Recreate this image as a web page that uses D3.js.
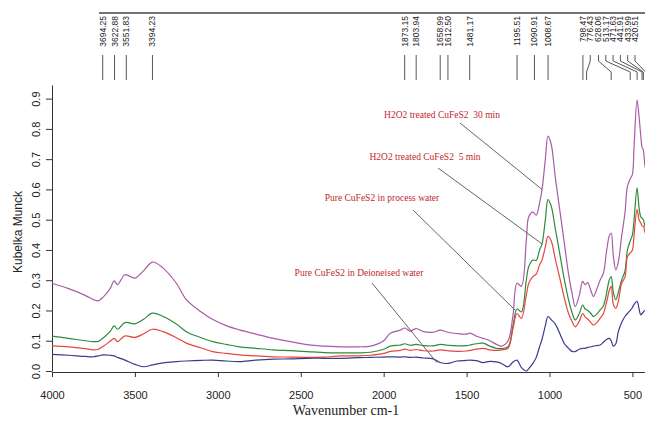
<!DOCTYPE html>
<html>
<head>
<meta charset="utf-8">
<script src="https://cdn.jsdelivr.net/npm/d3@7"></script>
<style>
  body { margin: 0; background: #fff; }
  svg { display: block; }
  .annot { white-space: pre; }
</style>
</head>
<body>
<svg class="spectra"></svg>
<script>
// wavenumbers (cm-1) shared by all four spectra
const wavenumbers = [4000, 3900, 3800, 3750, 3720, 3690, 3650, 3625, 3605, 3560, 3500, 3450, 3394, 3330, 3250, 3190,
	3100, 3030, 2950, 2870, 2770, 2665, 2560, 2460, 2360, 2260, 2150, 2080, 2000, 1960, 1900, 1873, 1840, 1804, 1760,
	1700, 1660, 1612, 1560, 1500, 1480, 1440, 1400, 1360, 1320, 1290, 1250, 1220, 1196, 1170, 1140, 1125, 1100, 1080,
	1060, 1045, 1025, 1009, 990, 965, 935, 910, 885, 865, 845, 820, 800, 785, 770, 750, 735, 715, 695, 675, 655, 640,
	628, 615, 600, 585, 565, 545, 530, 513, 500, 490, 472, 460, 450, 442, 434, 425, 410, 400];

const treated30 = [0.290, 0.272, 0.250, 0.236, 0.232, 0.245, 0.272, 0.298, 0.285, 0.318, 0.307, 0.330, 0.360, 0.340, 0.290, 0.236,
	0.195, 0.170, 0.150, 0.136, 0.122, 0.108, 0.097, 0.087, 0.082, 0.080, 0.080, 0.082, 0.100, 0.125, 0.135, 0.142, 0.132, 0.140, 0.130,
	0.128, 0.135, 0.128, 0.124, 0.122, 0.125, 0.115, 0.108, 0.100, 0.088, 0.082, 0.100, 0.185, 0.290, 0.280, 0.430, 0.510, 0.525, 0.515,
	0.555, 0.600, 0.700, 0.776, 0.750, 0.640, 0.520, 0.420, 0.320, 0.260, 0.213, 0.250, 0.296, 0.285, 0.292, 0.265, 0.246, 0.270, 0.300, 0.323,
	0.400, 0.445, 0.456, 0.380, 0.334, 0.360, 0.445, 0.522, 0.610, 0.635, 0.650, 0.742, 0.895, 0.840, 0.780, 0.740, 0.730, 0.680, 0.640, 0.610];

const treated5 = [0.115, 0.108, 0.100, 0.097, 0.098, 0.110, 0.130, 0.149, 0.138, 0.160, 0.156, 0.170, 0.191, 0.180, 0.155, 0.130,
	0.110, 0.097, 0.088, 0.080, 0.075, 0.070, 0.067, 0.064, 0.061, 0.060, 0.060, 0.062, 0.072, 0.082, 0.086, 0.090, 0.085, 0.088, 0.084,
	0.083, 0.088, 0.085, 0.083, 0.084, 0.086, 0.090, 0.092, 0.082, 0.075, 0.074, 0.080, 0.150, 0.205, 0.195, 0.300, 0.345, 0.367, 0.365,
	0.400, 0.420, 0.500, 0.566, 0.545, 0.470, 0.378, 0.300, 0.235, 0.195, 0.169, 0.190, 0.218, 0.205, 0.200, 0.190, 0.180, 0.188, 0.202, 0.215,
	0.260, 0.300, 0.312, 0.260, 0.235, 0.260, 0.300, 0.330, 0.400, 0.430, 0.450, 0.500, 0.605, 0.540, 0.510, 0.505, 0.500, 0.480, 0.460, 0.450];

const processWater = [0.083, 0.080, 0.074, 0.070, 0.072, 0.082, 0.098, 0.108, 0.097, 0.116, 0.111, 0.122, 0.138, 0.130, 0.110, 0.092,
	0.076, 0.064, 0.058, 0.053, 0.050, 0.047, 0.046, 0.045, 0.046, 0.050, 0.050, 0.052, 0.058, 0.065, 0.068, 0.072, 0.068, 0.071, 0.067,
	0.066, 0.070, 0.067, 0.065, 0.066, 0.068, 0.072, 0.075, 0.070, 0.068, 0.070, 0.075, 0.140, 0.190, 0.174, 0.250, 0.290, 0.312, 0.320,
	0.350, 0.367, 0.410, 0.445, 0.430, 0.370, 0.300, 0.240, 0.190, 0.165, 0.146, 0.165, 0.190, 0.178, 0.172, 0.160, 0.152, 0.160, 0.174, 0.190,
	0.230, 0.265, 0.280, 0.220, 0.207, 0.230, 0.290, 0.310, 0.378, 0.390, 0.400, 0.450, 0.533, 0.500, 0.490, 0.480, 0.478, 0.460, 0.440, 0.430];

const deionised = [0.055, 0.052, 0.048, 0.047, 0.050, 0.053, 0.052, 0.050, 0.045, 0.036, 0.022, 0.014, 0.020, 0.027, 0.031, 0.033,
	0.035, 0.036, 0.033, 0.031, 0.036, 0.039, 0.040, 0.042, 0.042, 0.042, 0.044, 0.045, 0.046, 0.047, 0.046, 0.047, 0.045, 0.046, 0.043,
	0.040, 0.028, 0.025, 0.033, 0.035, 0.036, 0.034, 0.028, 0.032, 0.030, 0.025, 0.014, 0.030, 0.036, 0.012, 0.000, 0.008, 0.025, 0.045,
	0.080, 0.105, 0.150, 0.180, 0.170, 0.155, 0.120, 0.090, 0.075, 0.065, 0.064, 0.072, 0.075, 0.075, 0.078, 0.080, 0.082, 0.084, 0.086, 0.095,
	0.105, 0.108, 0.100, 0.082, 0.090, 0.130, 0.160, 0.180, 0.190, 0.200, 0.210, 0.220, 0.230, 0.205, 0.185, 0.190, 0.195, 0.200, 0.200, 0.200];

const seriesColors = ['#a95aa9', '#2f8a3c', '#e6463d', '#3b3b8e'];

const xTicks = [4000, 3500, 3000, 2500, 2000, 1500, 1000, 500];
const yTicks = [0, 0.1, 0.2, 0.3, 0.4, 0.5, 0.6, 0.7, 0.8, 0.9];

// marked peaks along the top
const peakLabels = ['3694.25', '3622.88', '3551.83', '3394.23', '1873.15', '1803.94', '1658.99', '1612.50', '1481.17',
	'1195.51', '1090.91', '1008.67', '798.47', '776.43', '628.06', '513.17', '471.63', '441.91', '433.99', '420.51'];

// callouts: text, where the leader ends (wavenumber, value)
const annotTexts = ['H2O2 treated CuFeS2  30 min', 'H2O2 treated CuFeS2  5 min', 'Pure CuFeS2 in process water', 'Pure CuFeS2 in Deioneised water'];
const annotWn = [1045, 1045, 1205, 1680];
const annotVal = [0.60, 0.42, 0.20, 0.028];

const svg = d3.select('.spectra')
	.attr('width', 645)
	.attr('height', 421);

svg.append('rect').attr('width', 645).attr('height', 421).attr('fill', '#fff');

const xScale = d3.scaleLinear()
	.domain([4000, 400])
	.range([52, 649]);

const yScale = d3.scaleLinear()
	.domain([0, 0.945])
	.range([371, 85]);

const sansFont = '"Liberation Sans", Arial, sans-serif';
const serifFont = '"Liberation Serif", "Times New Roman", serif';

// x axis
const xAxisG = svg.append('g')
	.attr('transform', 'translate(0, 372)')
	.call(d3.axisBottom(xScale).tickValues(xTicks).tickSize(5).tickSizeOuter(0).tickPadding(14).tickFormat(d3.format('d')));
xAxisG.selectAll('text').attr('font-size', 11).attr('font-family', sansFont).attr('fill', '#222');
xAxisG.selectAll('line, path').attr('stroke', '#333');

// y axis, labels turned like R does
const yAxisG = svg.append('g')
	.attr('transform', 'translate(52, 0)')
	.call(d3.axisLeft(yScale).tickValues(yTicks).tickSize(6).tickSizeOuter(0).tickFormat(d3.format('.1f')));
yAxisG.selectAll('line, path').attr('stroke', '#333');
yAxisG.selectAll('text')
	.attr('x', 0).attr('y', 0).attr('dy', 0)
	.attr('text-anchor', 'middle')
	.attr('transform', 'translate(-12, 0) rotate(-90)')
	.attr('font-size', 11).attr('font-family', sansFont).attr('fill', '#222');

svg.append('text')
	.attr('transform', 'translate(22, 232) rotate(-90)')
	.attr('text-anchor', 'middle')
	.attr('font-family', sansFont)
	.attr('font-size', 12)
	.attr('fill', '#222')
	.text('Kubelka Munck');

svg.append('text')
	.attr('x', 346).attr('y', 415)
	.attr('text-anchor', 'middle')
	.attr('font-family', serifFont)
	.attr('font-size', 14)
	.attr('fill', '#222')
	.text('Wavenumber cm-1');

// spectra
const lineGenerator = d3.line()
	.x(d => xScale(d.wn))
	.y(d => yScale(d.v))
	.curve(d3.curveCatmullRom.alpha(0.5));

[treated30, treated5, processWater, deionised].forEach((vals, i) => {
	const pts = wavenumbers.map((wn, j) => ({ wn: wn, v: vals[j] }));
	svg.append('path')
		.attr('fill', 'none')
		.attr('stroke', seriesColors[i])
		.attr('stroke-width', 1.2)
		.attr('d', lineGenerator(pts));
});

// peak marker strip on top
svg.append('line')
	.attr('x1', 99).attr('x2', 645)
	.attr('y1', 13).attr('y2', 13)
	.attr('stroke', '#444').attr('stroke-width', 1.5);

const peakX = peakLabels.map(s => xScale(+s));
const gap = 7.3, maxX = 635;
const labelX = peakX.slice();
for (let i = 1; i < labelX.length; i++) labelX[i] = Math.max(labelX[i], labelX[i - 1] + gap);
labelX[labelX.length - 1] = Math.min(labelX[labelX.length - 1], maxX);
for (let i = labelX.length - 2; i >= 0; i--) labelX[i] = Math.min(labelX[i], labelX[i + 1] - gap);

const peakG = svg.append('g');
peakLabels.forEach((s, i) => {
	peakG.append('text')
		.attr('transform', `translate(${labelX[i]}, 16) rotate(-90)`)
		.attr('text-anchor', 'end')
		.attr('dy', '0.35em')
		.attr('font-family', sansFont)
		.attr('font-size', 8.5)
		.attr('fill', '#222')
		.text(s);
	peakG.append('polyline')
		.attr('points', `${labelX[i]},55 ${labelX[i]},61 ${peakX[i]},72 ${peakX[i]},80`)
		.attr('fill', 'none')
		.attr('stroke', '#444')
		.attr('stroke-width', 0.9);
});

// callouts
const annotTextX = [442, 425, 382, 359];
const annotTextY = [118, 160, 201, 276];
const annotStartX = [460, 438, 413, 372];
const annotStartY = [123, 168, 210, 283];
annotTexts.forEach((t, i) => {
	svg.append('line')
		.attr('x1', annotStartX[i]).attr('y1', annotStartY[i])
		.attr('x2', xScale(annotWn[i])).attr('y2', yScale(annotVal[i]))
		.attr('stroke', '#666').attr('stroke-width', 1);
	svg.append('text')
		.attr('class', 'annot')
		.attr('x', annotTextX[i]).attr('y', annotTextY[i])
		.attr('text-anchor', 'middle')
		.attr('font-family', serifFont)
		.attr('font-size', 9.5)
		.attr('fill', '#c0282d')
		.text(t);
});
</script>
</body>
</html>
